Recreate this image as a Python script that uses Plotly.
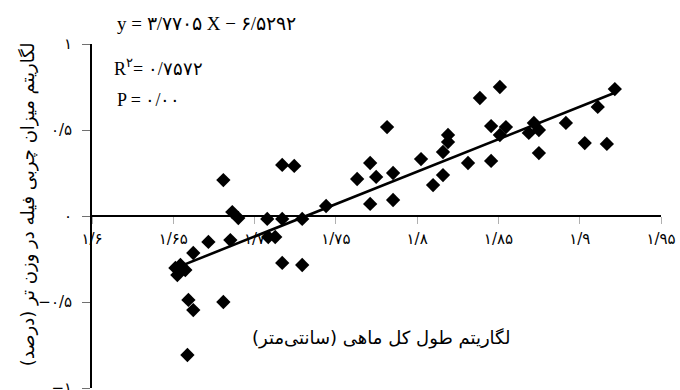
import plotly.graph_objects as go

# Log total fish length (cm) and log fillet fat content (% wet weight)
log_length = [
    1.6513, 1.6544, 1.6574, 1.6525, 1.6623, 1.6716, 1.6851, 1.6593, 1.6623, 1.6808,
    1.6587, 1.6808, 1.6863, 1.6900, 1.7078, 1.7170, 1.7244, 1.7170, 1.7293, 1.7084,
    1.7127, 1.7170, 1.7293, 1.7440, 1.7815, 1.7711, 1.7631, 1.7748, 1.7852, 1.7711,
    1.7852, 1.8024, 1.8098, 1.8159, 1.8159, 1.8190, 1.8190, 1.8313, 1.8455, 1.8386,
    1.8509, 1.8455, 1.8546, 1.8509, 1.8687, 1.8718, 1.8749, 1.8749, 1.8915, 1.9031,
    1.9111, 1.9167, 1.9216,
]
log_fat = [
    -0.302, -0.285, -0.314, -0.343, -0.215, -0.151, -0.140, -0.488, -0.547, -0.500,
    -0.808, 0.209, 0.023, -0.012, -0.017, 0.297, 0.291, -0.017, -0.017, -0.122,
    -0.122, -0.273, -0.285, 0.058, 0.517, 0.308, 0.215, 0.227, 0.250, 0.070,
    0.093, 0.331, 0.180, 0.238, 0.372, 0.430, 0.471, 0.308, 0.320, 0.686,
    0.750, 0.523, 0.517, 0.471, 0.483, 0.541, 0.500, 0.366, 0.541, 0.424,
    0.634, 0.419, 0.738,
]

# Fitted regression: y = 3.7705 X - 6.5292
slope = 3.7705
intercept = -6.5292

x_tickvals = [1.6, 1.65, 1.7, 1.75, 1.8, 1.85, 1.9, 1.95]
x_ticktext = ["۱/۶", "۱/۶۵", "۱/۷", "۱/۷۵", "۱/۸", "۱/۸۵", "۱/۹", "۱/۹۵"]
y_tickvals = [1, 0.5, 0, -0.5, -1]
y_ticktext = ["۱", "۰/۵", "۰", "−۰/۵", "−۱"]

fit_x = [min(log_length), max(log_length)]
fit_y = [slope * v + intercept for v in fit_x]

persian_font = "DejaVu Sans, Noto Sans, sans-serif"
serif_font = "Liberation Serif, DejaVu Serif, serif"

fig = go.Figure()
fig.add_trace(go.Scatter(
    x=log_length, y=log_fat, mode="markers",
    marker=dict(symbol="diamond", size=11, color="black"),
    showlegend=False, hoverinfo="skip",
))
fig.add_trace(go.Scatter(
    x=fit_x, y=fit_y, mode="lines",
    line=dict(color="black", width=2.6),
    showlegend=False, hoverinfo="skip",
))

fig.update_layout(
    width=680, height=390,
    margin=dict(l=91.5, r=19, t=44, b=2, autoexpand=False),
    paper_bgcolor="white", plot_bgcolor="white",
    font=dict(family=persian_font, color="black"),
    xaxis=dict(
        range=[1.6, 1.95], anchor="free", position=0.5, automargin=False,
        showline=True, linecolor="black", linewidth=1.8,
        showgrid=False, zeroline=False,
        ticks="outside", ticklen=7, tickcolor="#b0b0b0", tickwidth=1,
        tickvals=x_tickvals, ticktext=x_ticktext,
        tickfont=dict(size=15, family=persian_font),
        ticklabelstandoff=2,
    ),
    yaxis=dict(
        range=[-1, 1], automargin=False,
        showline=True, linecolor="black", linewidth=1.8,
        showgrid=False, zeroline=False,
        ticks="outside", ticklen=8, tickcolor="#707070", tickwidth=1,
        tickvals=y_tickvals, ticktext=y_ticktext,
        tickfont=dict(size=15, family=persian_font),
        ticklabelstandoff=7, ticklabeloverflow="allow",
    ),
)

annotations = [
    dict(text="y = ۳/۷۷۰۵ X − ۶/۵۲۹۲", x=0.041, y=1.061, xanchor="left",
         font=dict(size=19, family=serif_font)),
    dict(text="R<sup>۲</sup>= ۰/۷۵۷۲", x=0.036, y=0.933, xanchor="left",
         font=dict(size=18, family=serif_font)),
    dict(text="P = ۰/۰۰", x=0.041, y=0.837, xanchor="left",
         font=dict(size=18, family=serif_font)),
    dict(text="لگاریتم طول کل ماهی (سانتی‌متر)", x=0.508, y=0.145,
         font=dict(size=18, family=persian_font)),
    dict(text="لگاریتم میزان چربی فیله در وزن تر (درصد)", x=-0.135, y=0.535,
         textangle=-90, font=dict(size=18, family=persian_font)),
]
for a in annotations:
    a.update(xref="paper", yref="paper", showarrow=False, yanchor="middle")
    fig.add_annotation(**a)

fig.write_html("out.html")
